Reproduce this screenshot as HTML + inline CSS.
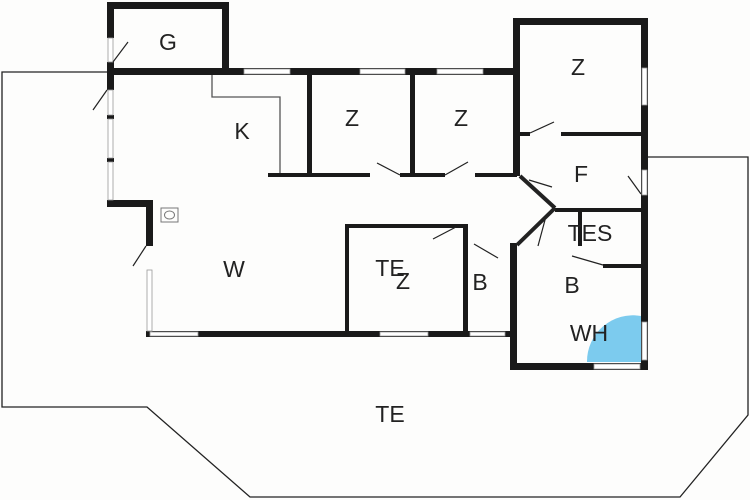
<!DOCTYPE html>
<html><head><style>body{margin:0;background:#fff}svg{display:block}text{font-family:"Liberation Sans",sans-serif;font-size:23px;fill:#222;text-anchor:middle}</style></head><body>
<svg width="750" height="500" viewBox="0 0 750 500" xmlns="http://www.w3.org/2000/svg">
<rect width="750" height="500" fill="#fdfdfc"/>
<g fill="none" stroke="#222" stroke-width="1.3">
<polyline points="107,72 2,72 2,407 147,407 250,497 680,497 748,415 748,157 648,157"/>
<polyline points="212,75 212,97 280,97 280,175" stroke="#555"/>
</g>
<path d="M641,316 A46,46 0 0 0 587,362 L641,362 Z" fill="#7ccbee"/>
<g fill="#1a1a1a">
<rect x="107" y="2" width="122" height="7"/>
<rect x="107" y="2" width="7" height="36"/>
<rect x="222" y="2" width="7" height="72"/>
<rect x="107" y="68" width="408" height="7"/>
<rect x="107" y="62" width="7" height="28"/>
<rect x="107" y="115" width="7" height="4"/>
<rect x="107" y="158" width="7" height="4"/>
<rect x="107" y="200" width="46" height="7"/>
<rect x="146" y="200" width="7" height="46"/>
<rect x="146" y="331" width="369" height="6"/>
<rect x="307" y="75" width="5" height="102"/>
<rect x="410" y="75" width="5" height="102"/>
<rect x="268" y="173" width="102" height="4"/>
<rect x="400" y="173" width="45" height="4"/>
<rect x="475" y="173" width="42" height="4"/>
<rect x="513" y="18" width="135" height="7"/>
<rect x="513" y="18" width="7" height="158"/>
<rect x="641" y="18" width="7" height="352"/>
<rect x="520" y="132" width="10" height="4"/>
<rect x="561" y="132" width="80" height="4"/>
<rect x="555" y="208" width="86" height="4"/>
<rect x="578" y="212" width="4" height="34"/>
<rect x="603" y="264" width="38" height="4"/>
<rect x="510" y="243" width="7" height="127"/>
<rect x="510" y="363" width="138" height="7"/>
<rect x="345" y="224" width="120" height="4"/>
<rect x="345" y="224" width="4" height="109"/>
<rect x="463" y="224" width="5" height="109"/>
</g>
<g fill="#fff" stroke="#999" stroke-width="0.8">
<rect x="244" y="69" width="46" height="5"/><rect x="360" y="69" width="45" height="5"/><rect x="437" y="69" width="46" height="5"/>
<rect x="108" y="38" width="5" height="24"/><rect x="108" y="90" width="5" height="25"/><rect x="108" y="119" width="5" height="39"/><rect x="108" y="162" width="5" height="38"/>
<rect x="147" y="270" width="5" height="61"/>
<rect x="150" y="332" width="48" height="4"/><rect x="380" y="332" width="48" height="4"/><rect x="470" y="332" width="35" height="4"/>
<rect x="642" y="68" width="5" height="37"/><rect x="642" y="170" width="5" height="25"/><rect x="642" y="322" width="5" height="38"/>
<rect x="594" y="364" width="46" height="5"/>
</g>
<g stroke="#222" stroke-width="1.2">
<line x1="113" y1="62" x2="128" y2="42"/><line x1="107" y1="90" x2="93" y2="110"/>
<line x1="146" y1="246" x2="133" y2="266"/>
<line x1="377" y1="163" x2="400" y2="175"/><line x1="445" y1="175" x2="468" y2="162"/>
<line x1="530" y1="133" x2="554" y2="122"/><line x1="529" y1="180" x2="552" y2="187"/>
<line x1="628" y1="176" x2="641" y2="194"/><line x1="545" y1="220" x2="538" y2="246"/>
<line x1="433" y1="239" x2="456" y2="227"/><line x1="474" y1="244" x2="498" y2="258"/>
<line x1="572" y1="256" x2="603" y2="265"/>
<line x1="520" y1="176" x2="555" y2="208" stroke-width="4"/><line x1="555" y1="208" x2="517" y2="245" stroke-width="4"/>
</g>
<rect x="161" y="208" width="17" height="14" fill="none" stroke="#777"/><ellipse cx="169.5" cy="215" rx="5" ry="4" fill="none" stroke="#777"/>
<text x="168" y="50">G</text><text x="242" y="139">K</text><text x="352" y="126">Z</text><text x="461" y="126">Z</text>
<text x="578" y="75">Z</text><text x="581" y="182">F</text><text x="590" y="241">TES</text>
<text x="234" y="277">W</text><text x="390" y="276">TE</text><text x="403" y="289">Z</text>
<text x="480" y="290">B</text><text x="572" y="293">B</text><text x="589" y="341">WH</text><text x="390" y="422">TE</text>
</svg>
</body></html>
